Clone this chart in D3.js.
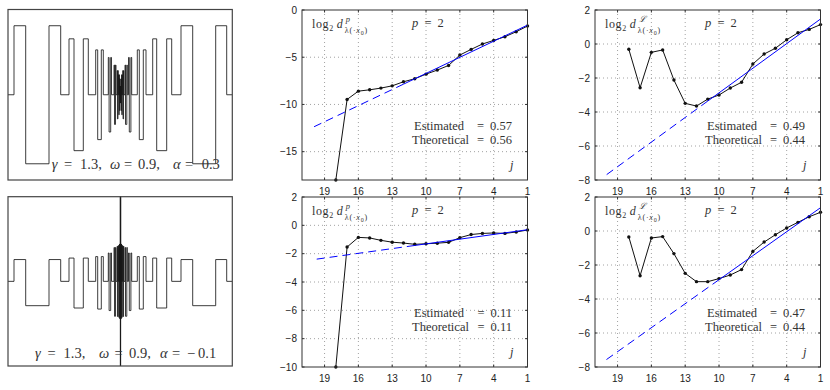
<!DOCTYPE html>
<html>
<head>
<meta charset="utf-8">
<style>
  body { margin: 0; background: #fff; }
  svg { display: block; }
  .tick { font-family: "Liberation Sans", Arial, sans-serif; font-size: 10px; fill: #222; }
  .grid { stroke: #8a8a8a; stroke-width: 0.8; stroke-dasharray: 1,3; }
</style>
</head>
<body>
<svg width="830" height="390" class="fig"></svg>
<script src="https://cdn.jsdelivr.net/npm/d3@7"></script>
<script>
// ---- data ----
var jValues = [1, 2, 3, 4, 5, 6, 7, 8, 9, 10, 11, 12, 13, 14, 15, 16, 17, 18];
var jTicks = [19, 16, 13, 10, 7, 4, 1];

var midTopVals   = [-1.7, -2.3, -2.83, -3.22, -3.6, -4.17, -4.77, -5.87, -6.36, -6.79, -7.28, -7.6, -8.03, -8.27, -8.45, -8.59, -9.47, -18];
var midBotVals   = [-0.33, -0.47, -0.57, -0.54, -0.57, -0.65, -0.87, -1.2, -1.26, -1.3, -1.34, -1.25, -1.19, -1.06, -0.89, -0.85, -1.53, -10];
var rightTopVals = [1.14, 0.86, 0.66, 0.25, -0.25, -0.59, -1.18, -2.25, -2.59, -3.0, -3.24, -3.65, -3.49, -2.12, -0.35, -0.49, -2.57, -0.31];
var rightBotVals = [1.1, 0.84, 0.51, 0.18, -0.22, -0.65, -1.2, -2.27, -2.59, -2.8, -2.98, -2.98, -2.49, -1.33, -0.33, -0.41, -2.63, -0.35];

var midTopTicks = [0, -5, -10, -15];
var midBotTicks = [2, 0, -2, -4, -6, -8, -10];
var rightTicks  = [2, 0, -2, -4, -6, -8];

// regression lines: value at j = 1 and at j = 20, solid part runs from j = 1 to solidTo
var midTopFit = [-1.6, -12.4],   midTopSolidTo = 12;
var midBotFit = [-0.31, -2.42],  midBotSolidTo = 11;
var rightTopFit = [1.47, -7.7],  rightTopSolidTo = 11;
var rightBotFit = [1.37, -7.57], rightBotSolidTo = 10;

var estimated   = ["0.57", "0.11", "0.49", "0.47"];
var theoretical = ["0.56", "0.11", "0.44", "0.44"];

// chirp signals (left column): step edges [up, down, up, back to 0], outer cycle first
var sigStart = -112.5, sigEnd = 111.8;
var cyclesLeft = [[-106.5, -94.8, -71.5, -59.8], [-51.5, -46.5, -37.2, -32.2], [-24.8, -22.8, -19.2, -17.2],
                  [-12.2, -11.4, -9.8, -9.0], [-6.5, -6.0, -5.0, -4.5], [-3.3, -3.05, -2.55, -2.3],
                  [-1.8, -1.65, -1.35, -1.2], [-1.0, -0.9, -0.7, -0.6], [-0.12, -0.1, -0.07, -0.05]];
var cyclesRight = [[60.5, 72.2, 95.2, 106.2], [32.2, 36.2, 46.2, 51.2], [16.8, 18.8, 22.8, 25.5],
                   [8.0, 8.8, 10.4, 11.2], [4.5, 5.0, 6.3, 6.8], [2.3, 2.55, 3.05, 3.3],
                   [1.2, 1.35, 1.65, 1.8], [0.6, 0.7, 0.9, 1.0], [0.05, 0.07, 0.1, 0.12]];
var ampTop     = [1, 0.81, 0.65, 0.54, 0.43, 0.35, 0.29, 0.23, 0.12];
var ampBotUp   = [1.03, 1.1, 1.17, 1.34, 1.6, 1.66, 1.7, 1.76, 15];
var ampBotDown = [1.15, 1.26, 1.31, 1.38, 1.65, 1.66, 1.7, 1.76, 15];

var serif = '"Liberation Serif", "Times New Roman", "DejaVu Serif", serif';

// ---- layout ----
var svg = d3.select(".fig");
var boxW = 225.5, boxH = 170;
var colX = [302, 595], rowY = [10, 197];

var panels = [
  {id: 0, x: colX[0], y: rowY[0], vals: midTopVals,   ticks: midTopTicks, dom: [-18, 0], fit: midTopFit,   solidTo: midTopSolidTo,   sup: "p"},
  {id: 1, x: colX[0], y: rowY[1], vals: midBotVals,   ticks: midBotTicks, dom: [-10, 2], fit: midBotFit,   solidTo: midBotSolidTo,   sup: "p"},
  {id: 2, x: colX[1], y: rowY[0], vals: rightTopVals, ticks: rightTicks,  dom: [-8, 2],  fit: rightTopFit, solidTo: rightTopSolidTo, sup: "\u2112"},
  {id: 3, x: colX[1], y: rowY[1], vals: rightBotVals, ticks: rightTicks,  dom: [-8, 2],  fit: rightBotFit, solidTo: rightBotSolidTo, sup: "\u2112"}
];

function fmt(v) { return v < 0 ? "\u2212" + (-v) : String(v); }

function mathText(g, x, y, size) {
  return g.append("text").attr("x", x).attr("y", y)
    .style("font-family", serif).style("font-size", size + "px").style("fill", "#333");
}

function dLabel(g, x, y, sup) {
  var t = mathText(g, x, y, 12).attr("letter-spacing", 0.6);
  t.append("tspan").text("log");
  t.append("tspan").attr("dy", 3).style("font-size", "8px").text("2");
  t.append("tspan").attr("dy", -3).attr("dx", 3).style("font-style", "italic").text("d");
  var b = t.node().getBBox();
  var xe = b.x + b.width;
  mathText(g, xe + 2, y - 6, 8.5).style("font-style", "italic").text(sup);
  var s = mathText(g, xe + 1, y + 5, 8).attr("letter-spacing", 0.8);
  s.append("tspan").text("\u03bb(\u00b7");
  s.append("tspan").style("font-style", "italic").text("x");
  s.append("tspan").attr("dy", 1.5).style("font-size", "6px").text("0");
  s.append("tspan").attr("dy", -1.5).text(")");
}

function drawPanel(p) {
  var x0 = p.x, y0 = p.y;
  var x = d3.scaleLinear().domain([21, 1]).range([x0, x0 + boxW]);
  var y = d3.scaleLinear().domain(p.dom).range([y0 + boxH, y0]);
  var g = svg.append("g");
  var clipId = "clip" + p.id;
  svg.append("clipPath").attr("id", clipId).append("rect")
    .attr("x", x0).attr("y", y0).attr("width", boxW).attr("height", boxH);

  // dotted grid
  g.selectAll(null).data(jTicks.filter(function(j) { return j !== 1; })).enter().append("line")
    .attr("class", "grid").attr("x1", x).attr("x2", x).attr("y1", y0).attr("y2", y0 + boxH);
  g.selectAll(null).data(p.ticks.filter(function(v) { return v !== p.dom[0] && v !== p.dom[1]; })).enter().append("line")
    .attr("class", "grid").attr("x1", x0).attr("x2", x0 + boxW).attr("y1", y).attr("y2", y);

  // data
  var pts = jValues.map(function(j, i) { return [j, p.vals[i]]; });
  var line = d3.line().x(function(d) { return x(d[0]); }).y(function(d) { return y(d[1]); });
  g.append("path").datum(pts).attr("d", line).attr("clip-path", "url(#" + clipId + ")")
    .attr("fill", "none").attr("stroke", "#111").attr("stroke-width", 1);
  g.selectAll(null).data(pts).enter().append("circle")
    .attr("cx", function(d) { return x(d[0]); }).attr("cy", function(d) { return y(d[1]); })
    .attr("r", 1.7).attr("fill", "#111");

  // regression line
  var fitAt = function(j) { return p.fit[0] + (p.fit[1] - p.fit[0]) * (j - 1) / 19; };
  g.append("path").datum([[1, p.fit[0]], [p.solidTo, fitAt(p.solidTo)]]).attr("d", line)
    .attr("clip-path", "url(#" + clipId + ")")
    .attr("fill", "none").attr("stroke", "#0000ff").attr("stroke-width", 1);
  g.append("path").datum([[p.solidTo, fitAt(p.solidTo)], [20, p.fit[1]]]).attr("d", line)
    .attr("clip-path", "url(#" + clipId + ")")
    .attr("fill", "none").attr("stroke", "#0000ff").attr("stroke-width", 1).attr("stroke-dasharray", "8,5");

  // box + inward ticks
  g.append("rect").attr("x", x0).attr("y", y0).attr("width", boxW).attr("height", boxH)
    .attr("fill", "none").attr("stroke", "#333").attr("stroke-width", 1);
  jTicks.forEach(function(j) {
    g.append("line").attr("x1", x(j)).attr("x2", x(j)).attr("y1", y0 + boxH).attr("y2", y0 + boxH - 2.5).attr("stroke", "#333");
    g.append("line").attr("x1", x(j)).attr("x2", x(j)).attr("y1", y0).attr("y2", y0 + 2.5).attr("stroke", "#333");
  });
  p.ticks.forEach(function(v) {
    g.append("line").attr("x1", x0).attr("x2", x0 + 2.5).attr("y1", y(v)).attr("y2", y(v)).attr("stroke", "#333");
    g.append("line").attr("x1", x0 + boxW).attr("x2", x0 + boxW - 2.5).attr("y1", y(v)).attr("y2", y(v)).attr("stroke", "#333");
  });

  // tick labels
  g.selectAll(null).data(jTicks).enter().append("text").attr("class", "tick")
    .attr("x", x).attr("y", y0 + boxH + 15).attr("text-anchor", "middle").text(function(d) { return d; });
  g.selectAll(null).data(p.ticks).enter().append("text").attr("class", "tick")
    .attr("x", x0 - 5).attr("y", function(d) { return y(d) + 3.6; }).attr("text-anchor", "end").text(fmt);

  // annotations
  dLabel(g, x0 + 10, y0 + 18, p.sup);
  var pe = mathText(g, x0 + 110, y0 + 17, 12.5).attr("word-spacing", 3);
  pe.append("tspan").style("font-style", "italic").text("p");
  pe.append("tspan").text(" = 2");
  mathText(g, x0 + 112, y0 + 120, 12.5).text("Estimated");
  mathText(g, x0 + 210, y0 + 120, 12.5).attr("text-anchor", "end").attr("word-spacing", 3)
    .text("= " + estimated[p.id]);
  mathText(g, x0 + 110, y0 + 133.5, 12.5).text("Theoretical");
  mathText(g, x0 + 210, y0 + 133.5, 12.5).attr("text-anchor", "end").attr("word-spacing", 3)
    .text("= " + theoretical[p.id]);
  mathText(g, x0 + 208, y0 + 159, 12.5).style("font-style", "italic").text("j");
}

panels.forEach(drawPanel);

// ---- left column: chirp signals ----
function signalPoints(up, down) {
  var pts = [[sigStart, 0]];
  cyclesLeft.forEach(function(c, k) {
    pts.push([c[0], up[k]], [c[1], -down[k]], [c[2], up[k]], [c[3], 0]);
  });
  for (var k = cyclesRight.length - 1; k >= 0; k--) {
    var c = cyclesRight[k];
    pts.push([c[0], up[k]], [c[1], -down[k]], [c[2], up[k]], [c[3], 0]);
  }
  pts.push([sigEnd, 0]);
  return pts;
}

// caption pieces and where each one starts
var capPieces = ["\u03b3", "=", "1.3,", "\u03c9", "=", "0.9,", "\u03b1", "=", null];
var capItalic = [true, false, false, true, false, false, true, false, false];
var capXTop   = [51.7, 64, 80, 110, 124, 138, 173, 185, 201.7];
var capXBot   = [35, 47.5, 63.5, 99, 114.5, 129, 160, 172, 187];

var sigPanels = [
  {id: "s0", y0: 9.5, y1: 180, dom: [-1.235, 1.235], up: ampTop, down: ampTop, alpha: "0.3", capX: capXTop, textY: 169},
  {id: "s1", y0: 196.7, y1: 366, dom: [-4, 4], up: ampBotUp, down: ampBotDown, alpha: "\u2212\u20090.1", capX: capXBot, textY: 357.5}
];

sigPanels.forEach(function(s) {
  var sx = d3.scaleLinear().domain([sigStart, sigEnd]).range([8, 232.3]);
  var sy = d3.scaleLinear().domain(s.dom).range([s.y1, s.y0]);
  svg.append("clipPath").attr("id", "clip" + s.id).append("rect")
    .attr("x", 8).attr("y", s.y0).attr("width", 224.3).attr("height", s.y1 - s.y0);
  var g = svg.append("g");
  g.append("path").datum(signalPoints(s.up, s.down))
    .attr("d", d3.line().curve(d3.curveStepAfter)
      .x(function(d) { return sx(d[0]); }).y(function(d) { return sy(d[1]); }))
    .attr("clip-path", "url(#clip" + s.id + ")")
    .attr("fill", "none").attr("stroke", "#1a1a1a").attr("stroke-width", 0.85);
  g.append("rect").attr("x", 8).attr("y", s.y0).attr("width", 224.3).attr("height", s.y1 - s.y0)
    .attr("fill", "none").attr("stroke", "#444").attr("stroke-width", 1.2);

  capPieces.forEach(function(piece, i) {
    var t = mathText(g, s.capX[i], s.textY, 14.5).text(piece === null ? s.alpha : piece);
    if (capItalic[i]) t.style("font-style", "italic");
  });
});
</script>
</body>
</html>
